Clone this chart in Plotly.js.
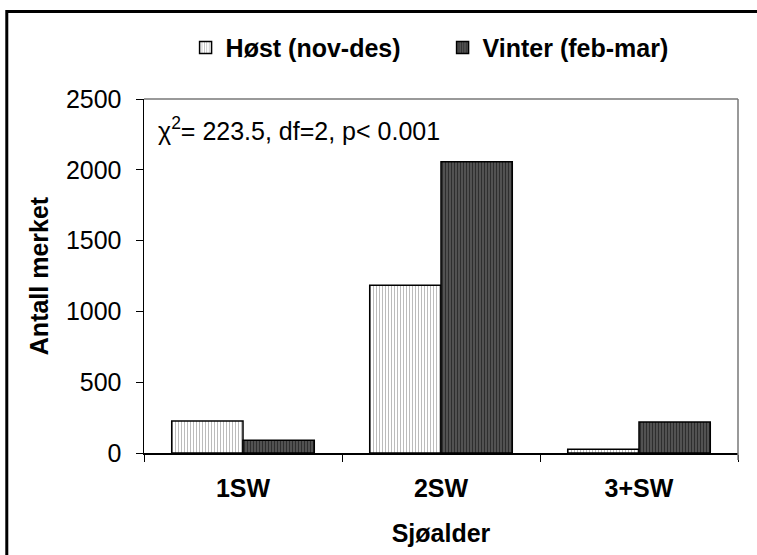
<!DOCTYPE html>
<html>
<head>
<meta charset="utf-8">
<script src="https://cdn.plot.ly/plotly-3.0.1.min.js"></script>
<style>html,body{margin:0;padding:0;background:#fff;}#chart{width:757px;height:555px;}</style>
</head>
<body>
<div id="chart"></div>
<script>
const categories = ["1SW", "2SW", "3+SW"];
const seriesNames = ["Høst (nov-des)", "Vinter (feb-mar)"];
const hostValues = [226, 1184, 26];
const vinterValues = [90, 2057, 219];
const yTicks = [0, 500, 1000, 1500, 2000, 2500];
const statText = "χ<sup>2</sup>= 223.5, df=2, p< 0.001";

const FONT = "Liberation Sans, Arial, sans-serif";

const traces = [
  {
    type: "bar", name: seriesNames[0], x: categories, y: hostValues,
    marker: {
      color: "#f4f4f4",
      line: {color: "#000", width: 1.5},
      pattern: {shape: "|", fgcolor: "#b4b4b4", bgcolor: "#ffffff", size: 3, solidity: 0.3}
    },
    hoverinfo: "x+y"
  },
  {
    type: "bar", name: seriesNames[1], x: categories, y: vinterValues,
    marker: {
      color: "#444",
      line: {color: "#000", width: 1.5},
      pattern: {shape: "|", fgcolor: "#2e2e2e", bgcolor: "#565656", size: 3, solidity: 0.4}
    },
    hoverinfo: "x+y"
  }
];

const layout = {
  width: 757, height: 555,
  margin: {l: 144, r: 19, t: 99, b: 102, autoexpand: false},
  paper_bgcolor: "#fff", plot_bgcolor: "#fff",
  font: {family: FONT, color: "#000", size: 25},
  barmode: "group",
  bargap: 0.28, bargroupgap: 0,
  showlegend: true,
  legend: {
    orientation: "h", x: 0.07, xanchor: "left", y: 1.145, yanchor: "middle",
    font: {family: FONT, size: 25, weight: "bold"},
    itemwidth: 30, entrywidth: 212, traceorder: "normal", bgcolor: "rgba(0,0,0,0)"
  },
  xaxis: {
    type: "category",
    tickson: "boundaries",
    ticks: "outside", ticklen: 7, tickcolor: "#000", tickwidth: 1,
    ticklabelstandoff: 12,
    showline: true, linecolor: "#000", linewidth: 1.5,
    showgrid: false, zeroline: false,
    tickfont: {family: FONT, size: 25, weight: "bold"},
    title: {text: "Sjøalder", font: {family: FONT, size: 25, weight: "bold"}, standoff: 24}
  },
  yaxis: {
    range: [0, 2500], tickvals: yTicks, ticktext: yTicks.map(String),
    ticks: "outside", ticklen: 7, tickcolor: "#000", tickwidth: 1,
    ticklabelstandoff: 9,
    showline: true, linecolor: "#000", linewidth: 1.5,
    showgrid: false, zeroline: false,
    tickfont: {family: FONT, size: 25},
    title: {text: "Antall merket", font: {family: FONT, size: 25, weight: "bold"}, standoff: 10}
  },
  annotations: [
    {xref: "paper", yref: "paper", x: 0.02, y: 0.915, xanchor: "left", yanchor: "middle",
     text: statText, showarrow: false, font: {family: FONT, size: 25, color: "#000"}}
  ],
  shapes: [
    {type: "line", xref: "paper", yref: "paper", x0: 0, x1: 1, y0: 1, y1: 1, line: {color: "#777", width: 1.5}},
    {type: "line", xref: "paper", yref: "paper", x0: 1, x1: 1, y0: 1, y1: -0.02, line: {color: "#777", width: 1.5}},
    {type: "rect", xref: "paper", yref: "paper", x0: -0.231, x1: 1.2, y0: 1.247, y1: -0.5, line: {color: "#000", width: 3}, layer: "below"}
  ]
};

Plotly.newPlot("chart", traces, layout, {displayModeBar: false, staticPlot: true});
</script>
</body>
</html>
